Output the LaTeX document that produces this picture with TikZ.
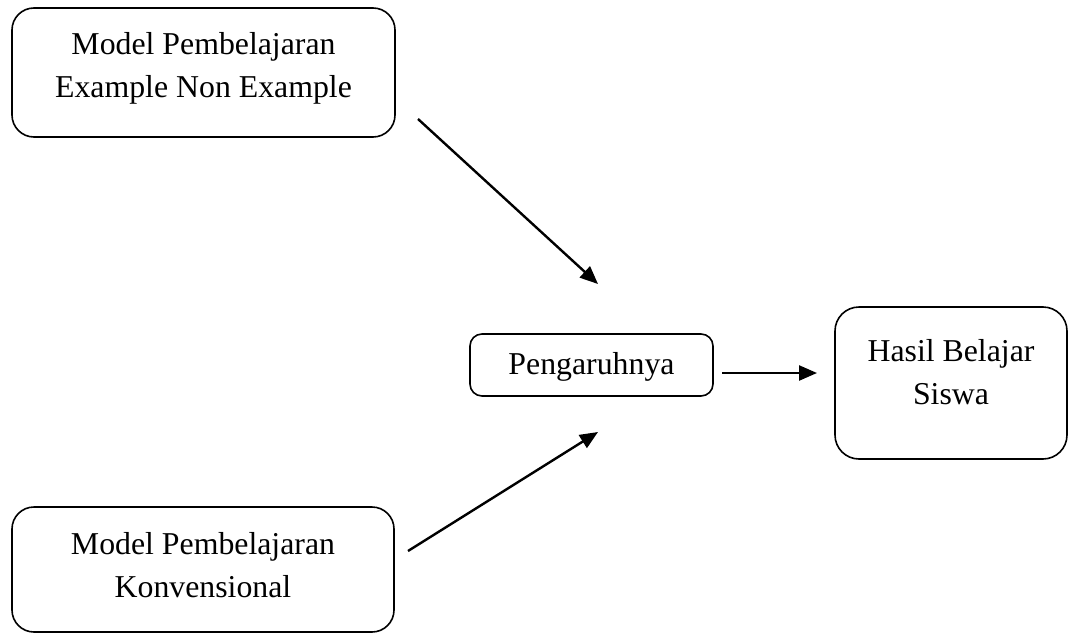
\documentclass[tikz,border=0pt]{standalone}
\usepackage{fontspec}
\setmainfont{Liberation Serif}
\usetikzlibrary{arrows.meta}
\tikzset{
  box/.style={draw, line width=1.6pt, inner sep=0pt},
  txt/.style={inner sep=0pt, align=center, font=\fontsize{31.8}{43}\selectfont},
  conn/.style={line width=2.4pt, -{Triangle[length=18pt,width=15pt]}}
}
\begin{document}
\begin{tikzpicture}[x=1pt,y=-1pt]
\useasboundingbox (0,0) rectangle (1070,634);
% boxes
\node[box, minimum width=383pt, minimum height=129pt, rounded corners=22pt] (b1) at (203.5,72.5) {};
\node[box, minimum width=382pt, minimum height=125pt, rounded corners=22pt] (b4) at (203,569.5) {};
\node[box, minimum width=243pt, minimum height=62pt, rounded corners=12pt] (b2) at (591.5,365) {};
\node[box, minimum width=232pt, minimum height=152pt, rounded corners=24pt] (b3) at (951,383) {};
% texts
\node[txt, anchor=north] (t1) at (b1.north |- 0,32) {Model Pembelajaran\\Example Non Example};
\node[txt, anchor=north] (t4) at (b4.north |- 0,532) {Model Pembelajaran\\Konvensional};
\node[txt] (t2) at ([yshift=-2pt]b2.center) {Pengaruhnya};
\node[txt, anchor=north] (t3) at (b3.north |- 0,339) {Hasil Belajar\\Siswa};
% connector ends
\coordinate (a1s) at (418,119);
\coordinate (a1e) at (598,284);
\coordinate (a2s) at (408,551);
\coordinate (a2e) at (598,432);
\coordinate (a3s) at (722,373);
\coordinate (a3e) at (817,373);
\draw[conn] (a1s) -- (a1e);
\draw[conn] (a2s) -- (a2e);
\draw[conn] (a3s) -- (a3e);
\end{tikzpicture}
\end{document}
